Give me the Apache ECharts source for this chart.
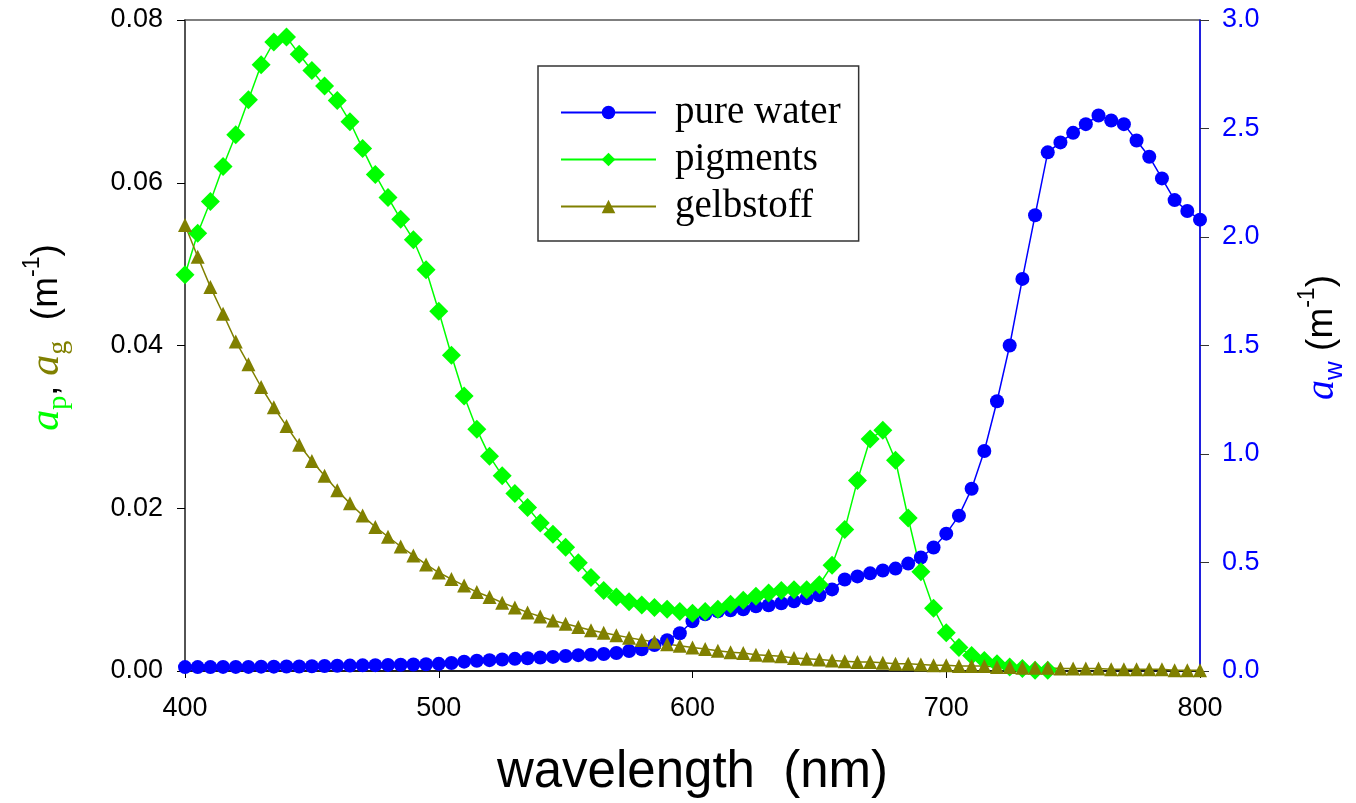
<!DOCTYPE html>
<html>
<head>
<meta charset="utf-8">
<script src="https://cdn.jsdelivr.net/npm/echarts@6/dist/echarts.min.js"></script>
<style>
  html, body { margin: 0; padding: 0; background: #fff; }
  #chart { width: 1356px; height: 803px; }
</style>
</head>
<body>
<div id="chart"></div>
<script>
// wavelength grid, 5 nm steps
var wavelengths = [];
for (var w = 400; w <= 800; w += 5) wavelengths.push(w);

// pure water absorption a_w (m^-1), right axis, 400..800
var pureWater = [
  0.018, 0.018, 0.018, 0.019, 0.019, 0.019, 0.020, 0.020, 0.021, 0.021,
  0.022, 0.023, 0.024, 0.025, 0.026, 0.027, 0.028, 0.029, 0.030, 0.031,
  0.033, 0.037, 0.043, 0.047, 0.050, 0.053, 0.056, 0.059, 0.062, 0.065,
  0.069, 0.073, 0.075, 0.078, 0.083, 0.092, 0.100, 0.120, 0.142, 0.174,
  0.229, 0.261, 0.275, 0.280, 0.284, 0.298, 0.303, 0.312, 0.321, 0.335,
  0.349, 0.376, 0.422, 0.436, 0.450, 0.463, 0.472, 0.495, 0.523, 0.569,
  0.633, 0.716, 0.840, 1.014, 1.243, 1.500, 1.807, 2.100, 2.390, 2.436,
  2.480, 2.520, 2.560, 2.537, 2.520, 2.445, 2.370, 2.270, 2.170, 2.120,
  2.080
];

// pigment absorption a_p (m^-1), left axis, 400..740
var pigments = [
  0.0487, 0.0538, 0.0577, 0.0620, 0.0659, 0.0702, 0.0745, 0.0773, 0.0779, 0.0758,
  0.0738, 0.0719, 0.0701, 0.0675, 0.0642, 0.0610, 0.0582, 0.0555, 0.0530, 0.0493,
  0.0442, 0.0388, 0.0338, 0.0297, 0.0264, 0.0240, 0.0218, 0.0201, 0.0182, 0.0168,
  0.0152, 0.0133, 0.0115, 0.0099, 0.0091, 0.0085, 0.0081, 0.0078, 0.0076, 0.0073,
  0.0071, 0.0073, 0.0076, 0.0082, 0.0087, 0.0092, 0.0096, 0.0099, 0.0100, 0.0100,
  0.0106, 0.0130, 0.0174, 0.0234, 0.0285, 0.0296, 0.0259, 0.0188, 0.0122, 0.0077,
  0.0047, 0.0029, 0.0019, 0.0013, 0.0009, 0.0005, 0.0003, 0.0001, 0.0001
];

// gelbstoff absorption a_g (m^-1), left axis, 400..800
var gelbstoff = [
  0.0548, 0.0509, 0.0472, 0.0439, 0.0405, 0.0377, 0.0349, 0.0324, 0.0301, 0.0278,
  0.0258, 0.0240, 0.0222, 0.0206, 0.0191, 0.0177, 0.0165, 0.0153, 0.0142, 0.0131,
  0.0121, 0.0113, 0.0105, 0.0097, 0.0091, 0.0084, 0.0078, 0.0072, 0.0067, 0.0062,
  0.0058, 0.0054, 0.0050, 0.0047, 0.0044, 0.0041, 0.0038, 0.0036, 0.0033, 0.0031,
  0.0029, 0.0027, 0.0025, 0.0023, 0.0022, 0.0020, 0.0019, 0.0018, 0.0016, 0.0015,
  0.0014, 0.0013, 0.0012, 0.0011, 0.0011, 0.0010, 0.0009, 0.0009, 0.0008, 0.0007,
  0.0007, 0.0006, 0.0006, 0.0006, 0.0005, 0.0005, 0.0004, 0.0004, 0.0004, 0.0003,
  0.0003, 0.0003, 0.0003, 0.0002, 0.0002, 0.0002, 0.0002, 0.0002, 0.0001, 0.0001,
  0.0001
];

var seriesNames = ['pure water', 'pigments', 'gelbstoff'];

function pairs(vals) {
  return vals.map(function (v, i) { return [wavelengths[i], v]; });
}

var chart = echarts.init(document.getElementById('chart'));

var sans = 'Liberation Sans, Arial, sans-serif';
var serif = 'Liberation Serif, Times New Roman, serif';

var option = {
  animation: false,
  backgroundColor: '#fff',
  grid: {
    left: 185, right: 151, top: 20, bottom: 129,
    show: true, borderColor: '#555', borderWidth: 1.5
  },
  legend: {
    data: seriesNames,
    orient: 'vertical',
    left: 538, top: 66,
    padding: [27, 18, 15, 22],
    itemWidth: 95, itemHeight: 17, itemGap: 8,
    borderColor: '#333', borderWidth: 1.5,
    textStyle: { fontFamily: serif, fontSize: 39, color: '#000', padding: [0, 0, 0, 14] }
  },
  xAxis: {
    type: 'value', min: 400, max: 800, interval: 100,
    name: 'wavelength  (nm)', nameLocation: 'middle', nameGap: 76,
    nameTextStyle: { fontFamily: sans, fontSize: 51, color: '#000' },
    axisLine: { lineStyle: { color: '#000', width: 1.5 } },
    axisTick: { length: 7, lineStyle: { color: '#000' } },
    axisLabel: { fontFamily: sans, fontSize: 27, color: '#000', margin: 24 },
    splitLine: { show: false }
  },
  yAxis: [{
    type: 'value', min: 0, max: 0.08, interval: 0.02,
    position: 'left',
    name: '{ap|a}{sp|p}{c|, }{ag|a}{sg|g}{u|  (m}{sup|-1}{u|)}',
    nameLocation: 'middle', nameRotate: 90, nameGap: 112,
    nameTextStyle: {
      padding: [0, 0, 0, 16],
      rich: {
        ap: { fontFamily: serif, fontStyle: 'italic', fontSize: 42, color: '#00ff00', lineHeight: 52, verticalAlign: 'middle' },
        sp: { fontFamily: serif, fontSize: 28, color: '#00ff00', lineHeight: 52, verticalAlign: 'bottom' },
        c: { fontFamily: sans, fontSize: 36, color: '#000', lineHeight: 52, verticalAlign: 'middle' },
        ag: { fontFamily: serif, fontStyle: 'italic', fontSize: 42, color: '#808000', lineHeight: 52, verticalAlign: 'middle' },
        sg: { fontFamily: serif, fontSize: 28, color: '#808000', lineHeight: 52, verticalAlign: 'bottom' },
        u: { fontFamily: sans, fontSize: 37, color: '#000', lineHeight: 52, verticalAlign: 'middle' },
        sup: { fontFamily: sans, fontSize: 23, color: '#000', lineHeight: 52, verticalAlign: 'top' }
      }
    },
    axisLine: { show: true, lineStyle: { color: '#444', width: 1.5 } },
    axisTick: { show: true, length: 8, lineStyle: { color: '#000' } },
    axisLabel: {
      fontFamily: sans, fontSize: 27, color: '#000', margin: 22,
      formatter: function (v) { return v.toFixed(2); }
    },
    splitLine: { show: false }
  }, {
    type: 'value', min: 0, max: 3, interval: 0.5,
    position: 'right',
    name: '{aw|a}{sw|w}{u| (m}{sup|-1}{u|)}',
    nameLocation: 'middle', nameRotate: 90, nameGap: 96,
    nameTextStyle: {
      padding: [0, 0, 0, 16],
      rich: {
        aw: { fontFamily: serif, fontStyle: 'italic', fontSize: 40, color: '#0000ff', lineHeight: 52, verticalAlign: 'middle' },
        sw: { fontFamily: sans, fontSize: 26, color: '#0000ff', lineHeight: 52, verticalAlign: 'bottom' },
        u: { fontFamily: sans, fontSize: 37, color: '#000', lineHeight: 52, verticalAlign: 'middle' },
        sup: { fontFamily: sans, fontSize: 23, color: '#000', lineHeight: 52, verticalAlign: 'top' }
      }
    },
    axisLine: { show: true, lineStyle: { color: '#0000ff', width: 1.5 } },
    axisTick: { show: true, length: 9, lineStyle: { color: '#333' } },
    axisLabel: {
      fontFamily: sans, fontSize: 27, color: '#0000ff', margin: 22,
      formatter: function (v) { return v.toFixed(1); }
    },
    splitLine: { show: false }
  }],
  series: [{
    name: seriesNames[0],
    type: 'line',
    yAxisIndex: 1,
    data: pairs(pureWater),
    symbol: 'circle', symbolSize: 14,
    itemStyle: { color: '#0000ff' },
    lineStyle: { color: '#0000ff', width: 1.5 }
  }, {
    name: seriesNames[1],
    type: 'line',
    yAxisIndex: 0,
    data: pairs(pigments),
    symbol: 'diamond', symbolSize: 19,
    itemStyle: { color: '#00ff00' },
    lineStyle: { color: '#00ff00', width: 1.5 }
  }, {
    name: seriesNames[2],
    type: 'line',
    yAxisIndex: 0,
    data: pairs(gelbstoff),
    symbol: 'triangle', symbolSize: 14,
    itemStyle: { color: '#808000' },
    lineStyle: { color: '#808000', width: 1.5 }
  }]
};

chart.setOption(option);
</script>
</body>
</html>
